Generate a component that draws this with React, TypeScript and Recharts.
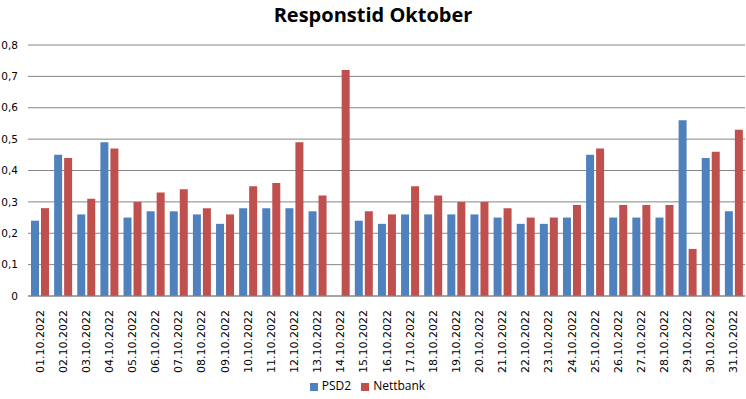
import React from 'react';
import { BarChart, Bar, XAxis, YAxis, CartesianGrid, Legend } from 'recharts';

const days = [
  '01.10.2022', '02.10.2022', '03.10.2022', '04.10.2022', '05.10.2022', '06.10.2022', '07.10.2022',
  '08.10.2022', '09.10.2022', '10.10.2022', '11.10.2022', '12.10.2022', '13.10.2022', '14.10.2022',
  '15.10.2022', '16.10.2022', '17.10.2022', '18.10.2022', '19.10.2022', '20.10.2022', '21.10.2022',
  '22.10.2022', '23.10.2022', '24.10.2022', '25.10.2022', '26.10.2022', '27.10.2022', '28.10.2022',
  '29.10.2022', '30.10.2022', '31.10.2022',
];

const psd2 = [
  0.24, 0.45, 0.26, 0.49, 0.25, 0.27, 0.27, 0.26, 0.23, 0.28, 0.28, 0.28, 0.27, null,
  0.24, 0.23, 0.26, 0.26, 0.26, 0.26, 0.25, 0.23, 0.23, 0.25, 0.45, 0.25, 0.25, 0.25,
  0.56, 0.44, 0.27,
];

const nettbank = [
  0.28, 0.44, 0.31, 0.47, 0.30, 0.33, 0.34, 0.28, 0.26, 0.35, 0.36, 0.49, 0.32, 0.72,
  0.27, 0.26, 0.35, 0.32, 0.30, 0.30, 0.28, 0.25, 0.25, 0.29, 0.47, 0.29, 0.29, 0.29,
  0.15, 0.46, 0.53,
];

const yTicks = [0, 0.1, 0.2, 0.3, 0.4, 0.5, 0.6, 0.7, 0.8];
const seriesOrder = ['PSD2', 'Nettbank'];

const data = days.map((d, i) => ({ day: d, PSD2: psd2[i], Nettbank: nettbank[i] }));

const font = '"DejaVu Sans", sans-serif';

// rotated date labels, reading bottom-to-top
const DayTick = (props: any) => {
  const { x, y, payload } = props;
  return (
    <g transform={`translate(${x + 4},${y + 6})`}>
      <text transform="rotate(-90)" textAnchor="end" fontSize={11} fontFamily={font} fill="#000">
        {payload.value}
      </text>
    </g>
  );
};

export default function App() {
  return (
    <div style={{ position: 'absolute', left: 0, top: 0, width: 746, height: 399, background: '#fff' }}>
      <div
        style={{
          position: 'absolute', top: 1, left: 0, width: 746, textAlign: 'center',
          fontFamily: '"Open Sans", sans-serif', fontWeight: 700, fontSize: 20, color: '#000',
        }}
      >
        Responstid Oktober
      </div>
      <BarChart
        width={746}
        height={399}
        data={data}
        margin={{ top: 45, right: 1, bottom: 25, left: 0 }}
        barSize={8}
        barGap={2}
      >
        <CartesianGrid vertical={false} stroke="#868686" />
        <XAxis
          dataKey="day"
          interval={0}
          height={78}
          tickLine={false}
          stroke="#868686"
          tick={<DayTick />}
        />
        <YAxis
          domain={[0, 0.8]}
          ticks={yTicks}
          width={28}
          axisLine={false}
          tickLine={false}
          tickMargin={4}
          tick={{ fontSize: 10.5, fontFamily: font, fill: '#000' }}
          tickFormatter={(v: number) => String(v).replace('.', ',')}
        />
        <Legend
          verticalAlign="middle"
          align="center"
          iconType="square"
          iconSize={8}
          itemSorter={(item: any) => seriesOrder.indexOf(item.value)}
          wrapperStyle={{ top: 377, fontFamily: '"Open Sans", sans-serif', fontSize: 12 }}
          formatter={(v: string) => <span style={{ color: '#000' }}>{v}</span>}
        />
        <Bar dataKey="PSD2" fill="#4F81BD" isAnimationActive={false} />
        <Bar dataKey="Nettbank" fill="#C0504D" isAnimationActive={false} />
      </BarChart>
    </div>
  );
}
